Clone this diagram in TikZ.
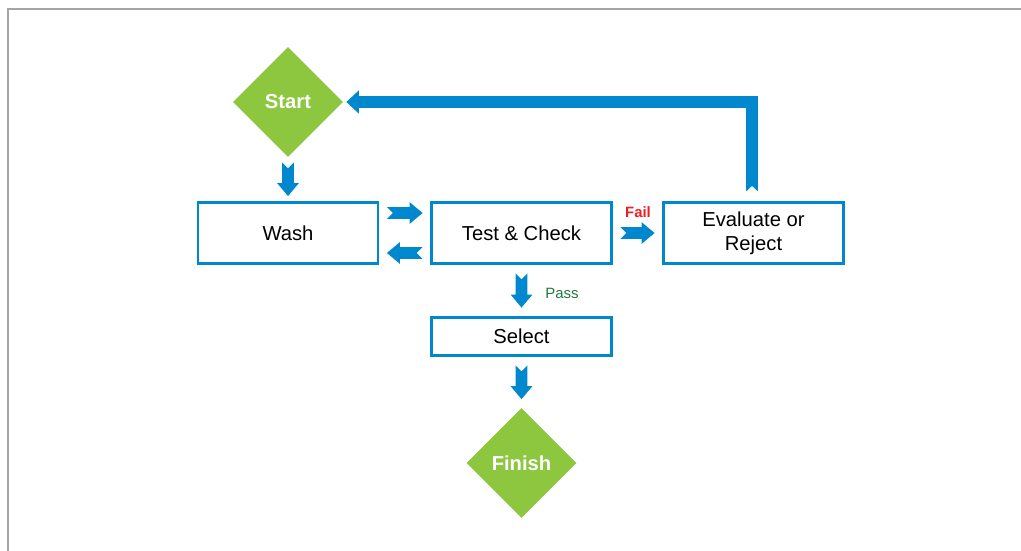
\documentclass[tikz,border=0pt]{standalone}
\usepackage{fontspec}
\setmainfont{Liberation Sans}
\usetikzlibrary{shapes.geometric, arrows.meta, calc}

\definecolor{flowblue}{RGB}{0,136,206}
\definecolor{flowgreen}{RGB}{141,198,63}
\definecolor{passgreen}{RGB}{34,120,58}
\definecolor{failred}{RGB}{232,32,40}
\definecolor{framegray}{RGB}{165,165,165}

\tikzset{
  stepbox/.style={draw=flowblue, line width=1.6pt, minimum width=3.6cm, minimum height=1.22cm,
    align=center, font=\fontsize{11.5}{13.8}\selectfont},
  terminal/.style={diamond, fill=flowgreen, minimum width=2.2cm, minimum height=2.2cm,
    inner sep=0pt, text=white, font=\fontsize{11.5}{13.6}\selectfont\bfseries},
  looparrow/.style={draw=flowblue, line width=0.24cm, -{Triangle[width=0.45cm, length=0.25cm]}},
}

% fat block arrow with a notched tail, from #2 to #3, pulled in by #1 at both ends
\newcommand{\fatarrow}[3][0.15cm]{%
  \fill[flowblue] let \p1=#2, \p2=#3,
    \n1={atan2(\y2-\y1,\x2-\x1)}, \n2={veclen(\x2-\x1,\y2-\y1)} in
    [shift={(\p1)}, rotate=\n1]
    (#1,3.4pt) -- (\n2-#1-7.4pt,3.4pt) -- (\n2-#1-7.4pt,6.2pt) -- (\n2-#1,0)
    -- (\n2-#1-7.4pt,-6.2pt) -- (\n2-#1-7.4pt,-3.4pt) -- (#1,-3.4pt) -- (#1+3.4pt,0) -- cycle;
}

\begin{document}
\begin{tikzpicture}
  \useasboundingbox (0,0) rectangle (20.42,11);
  % frame
  \draw[framegray, line width=1pt] (0.16,-0.5) -- (0.16,10.82) -- (20.9,10.82);

  % steps
  \node[terminal] (start) at (5.76,8.96) {Start};
  \node[stepbox] (wash) at (5.76,6.34) {Wash};
  \node[stepbox] (test) at (10.43,6.34) {Test \& Check};
  \node[stepbox] (eval) at (15.07,6.34) {Evaluate or\\Reject};
  \node[stepbox, minimum height=0.76cm] (select) at (10.43,4.27) {Select};
  \node[terminal] (finish) at (10.43,1.74) {Finish};

  % arrows between steps
  \fatarrow[0.1cm]{(start.south)}{(wash.north)}
  \fatarrow{($(wash.east)+(0,0.4)$)}{($(test.west)+(0,0.4)$)}
  \fatarrow{($(test.west)+(0,-0.4)$)}{($(wash.east)+(0,-0.4)$)}
  \fatarrow{(test.east)}{(eval.west)}
  \fatarrow[0.17cm]{(test.south)}{(select.north)}
  \fatarrow[0.17cm]{(select.south)}{(finish.north)}

  \node[font=\fontsize{8.5}{10}\selectfont\bfseries, text=failred] (faillbl) at (12.76,6.76) {Fail};
  \node[font=\fontsize{8.5}{10}\selectfont, text=passgreen] (passlbl) at (11.24,5.14) {Pass};

  % back to the start
  \coordinate (looptail) at ($(eval.north)+(-0.03,0.18)$);
  \draw[looparrow] (looptail) |- ($(start.east)+(0.06,0)$);
  \fill[white] ($(looptail)+(-0.14,-0.01)$) -- ($(looptail)+(0,0.12)$) -- ($(looptail)+(0.14,-0.01)$) -- cycle;
\end{tikzpicture}
\end{document}
